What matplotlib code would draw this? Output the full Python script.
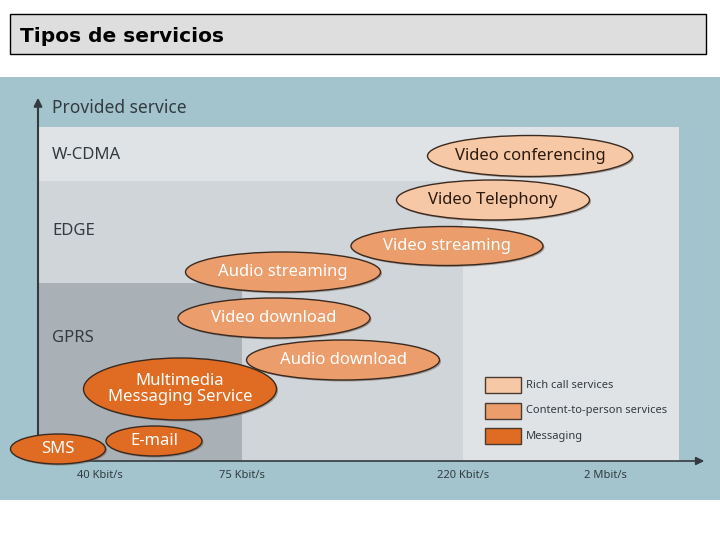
import matplotlib.pyplot as plt
from matplotlib.patches import Ellipse, Rectangle, FancyArrowPatch

# services shown as ellipses: label, category, centre x, centre y, width, height (pixels)
services = ["Video conferencing", "Video Telephony", "Video streaming",
            "Audio streaming", "Video download", "Audio download",
            "Multimedia\nMessaging Service", "E-mail", "SMS"]
service_kind = ["rich", "rich", "content", "content", "content", "content",
                "msg", "msg", "msg"]
service_x = [530, 493, 447, 283, 274, 343, 180, 154, 58]
service_y = [156, 200, 246, 272, 318, 360, 389, 441, 449]
service_w = [205, 193, 192, 195, 192, 193, 193, 96, 95]
service_h = [41, 40, 39, 40, 40, 40, 62, 30, 30]

# network layers: name, right edge, top edge, label y
networks = ["W-CDMA", "EDGE", "GPRS"]
net_right = [679, 463, 242]
net_top = [127, 181, 283]
net_label_y = [155, 231, 338]

speed_labels = ["40 Kbit/s", "75 Kbit/s", "220 Kbit/s", "2 Mbit/s"]
speed_x = [100, 242, 463, 605]

legend_labels = ["Rich call services", "Content-to-person services", "Messaging"]
legend_kind = ["rich", "content", "msg"]

fills = {"rich": "#f7c8a5", "content": "#eb9d6b", "msg": "#e06b22"}
text_col = {"rich": "#2a1a10", "content": "white", "msg": "white"}
net_colors = ["#dfe3e6", "#d0d5d9", "#a9b1b7"]

fig = plt.figure(figsize=(7.2, 5.4), dpi=100)
ax = fig.add_axes([0, 0, 1, 1])
ax.set_xlim(0, 720)
ax.set_ylim(540, 0)
ax.axis("off")

# title box
ax.add_patch(Rectangle((10, 14), 696, 40, facecolor="#dedede", edgecolor="black", lw=1))
ax.text(20, 36, "Tipos de servicios", fontsize=14.5, fontweight="bold",
        va="center", ha="left", color="black")

# blue panel
ax.add_patch(Rectangle((0, 77), 720, 423, facecolor="#a3c4cd", edgecolor="none"))

axis_x, axis_y = 38, 461
for name, right, top, ly, col in zip(networks, net_right, net_top, net_label_y, net_colors):
    ax.add_patch(Rectangle((axis_x, top), right - axis_x, axis_y - top,
                           facecolor=col, edgecolor="none"))
    ax.text(52, ly, name, fontsize=12, color="#333a40", va="center",
            family="Noto Sans")

ax.text(52, 108, "Provided service", fontsize=12.5, color="#333a40",
        va="center", fontweight="bold", family="Noto Sans")

# axes arrows
ax.add_patch(FancyArrowPatch((axis_x, axis_y), (axis_x, 95), arrowstyle="-|>",
                             mutation_scale=12, color="#333a40", lw=1.5))
ax.add_patch(FancyArrowPatch((axis_x, axis_y), (707, axis_y), arrowstyle="-|>",
                             mutation_scale=12, color="#333a40", lw=1.2))

for lab, x in zip(speed_labels, speed_x):
    ax.text(x, 476, lab, fontsize=8, color="#333a40", ha="center", va="center",
            family="Noto Sans")

# service ellipses
for lab, kind, x, y, w, h in zip(services, service_kind,
                                 service_x, service_y, service_w, service_h):
    ax.add_patch(Ellipse((x + 1.5, y + 1.5), w, h, facecolor="#6a5a50",
                         edgecolor="none", alpha=0.5))
    ax.add_patch(Ellipse((x, y), w, h, facecolor=fills[kind], edgecolor="#3a2a20", lw=1))
    ax.text(x, y, lab, fontsize=12, color=text_col[kind], ha="center", va="center",
            family="Noto Sans", linespacing=1.0)

# legend
for i, (lab, kind) in enumerate(zip(legend_labels, legend_kind)):
    y0 = 377 + i * 25.5
    ax.add_patch(Rectangle((485, y0), 36, 16, facecolor=fills[kind],
                           edgecolor="#4a3a30", lw=1))
    ax.text(526, y0 + 8, lab, fontsize=8, color="#333a40", va="center",
            family="Noto Sans")

fig.savefig("out.png", dpi=100)
